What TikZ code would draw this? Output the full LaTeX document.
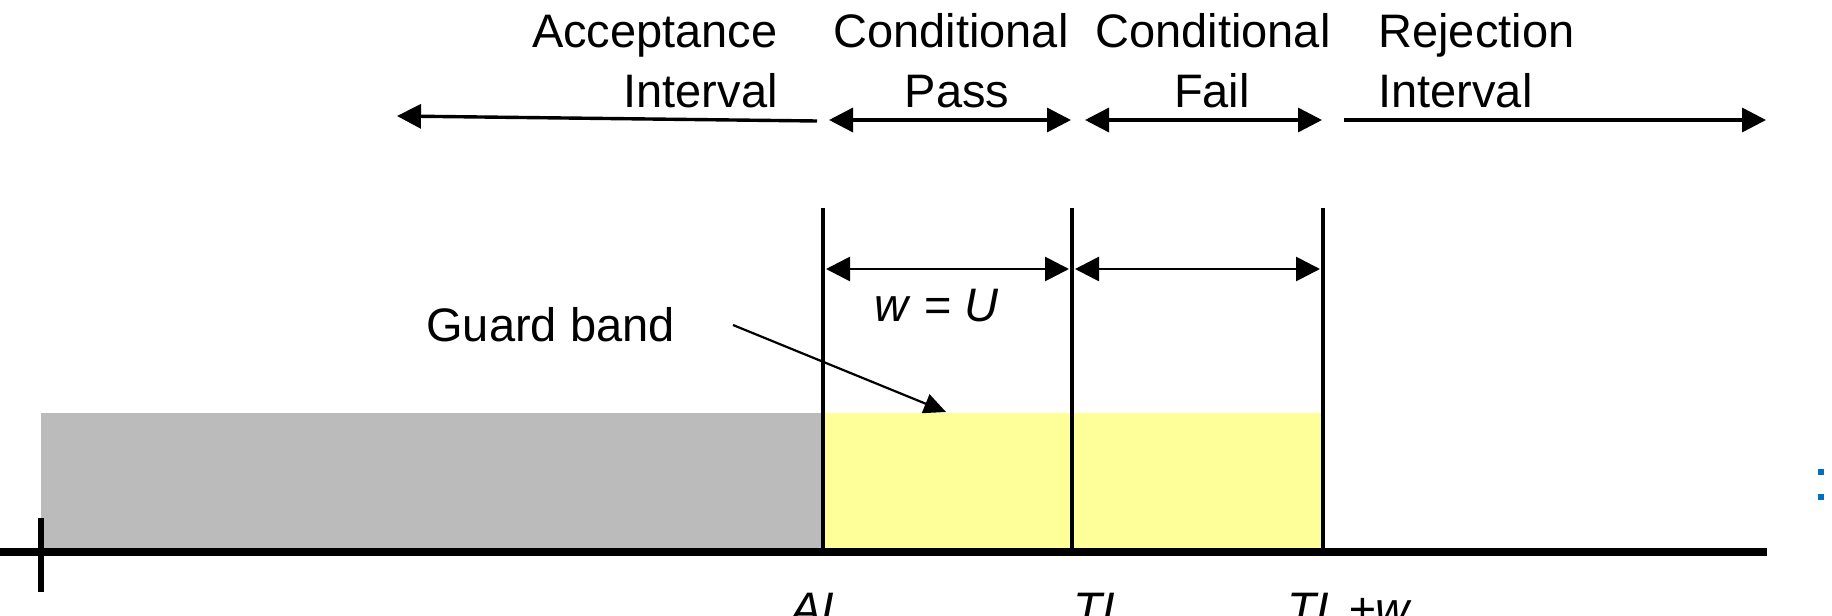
\documentclass[tikz,border=0pt]{standalone}
\usepackage{fontspec}
\setmainfont{Liberation Sans}
\usetikzlibrary{arrows.meta}
\definecolor{gbandyellow}{HTML}{FFFF99}
\definecolor{accgray}{HTML}{BBBBBB}
\definecolor{dotblue}{HTML}{0070C0}
\begin{document}
\begin{tikzpicture}[x=0.5pt,y=-0.5pt,
  lbl/.style={inner sep=0pt, font=\fontsize{23.5pt}{28pt}\selectfont},
  limline/.style={line width=2.3pt},
  toparrow/.style={line width=1.7pt},
  dimarrow/.style={line width=1.4pt},
  headR/.style={-{Triangle[length=12pt,width=12pt]}},
  headLR/.style={{Triangle[length=12pt,width=12pt]}-{Triangle[length=12pt,width=12pt]}},
]
\clip (0,0) rectangle (1832,616);
\fill[white] (0,0) rectangle (1832,616);

% key coordinates
\coordinate (axL) at (0,552);
\coordinate (axR) at (1767,552);
\coordinate (tickT) at (41,518);
\coordinate (tickB) at (41,592);
\coordinate (ALtop) at (823,208);
\coordinate (ALbot) at (823,552);
\coordinate (TLtop) at (1072,208);
\coordinate (TLbot) at (1072,552);
\coordinate (TWtop) at (1323,208);
\coordinate (TWbot) at (1323,552);

% filled regions
\fill[accgray] (41,413) rectangle (823,552);
\fill[gbandyellow] (823,413) rectangle (1323,552);

% axis and tick
\draw[line width=4pt] (axL) -- (axR);
\draw[line width=3pt] (tickT) -- (tickB);

% limit lines
\draw[limline] (ALtop) -- (ALbot);
\draw[limline] (TLtop) -- (TLbot);
\draw[limline] (TWtop) -- (TWbot);

% dimension arrows
\coordinate (d1a) at (826,269);
\coordinate (d1b) at (1069,269);
\coordinate (d2a) at (1075,269);
\coordinate (d2b) at (1320,269);
\draw[dimarrow,headLR] (d1a) -- (d1b);
\draw[dimarrow,headLR] (d2a) -- (d2b);
\node[lbl, anchor=base] (wu) at (937,321) {\textit{w} = \textit{U}};

% guard band
\node[lbl, anchor=base west] (gb) at (426,341) {Guard band};
\coordinate (gbs) at (733,325);
\coordinate (gbe) at (946,412);
\draw[line width=1.1pt, -{Triangle[length=11pt,width=10pt]}] (gbs) -- (gbe);

% top labels
\node[lbl, anchor=base east] (acc1) at (778,47) {Acceptance};
\node[lbl, anchor=base east] (acc2) at (778,107) {Interval};
\node[lbl, anchor=base] (cp1) at (951,47) {Conditional};
\node[lbl, anchor=base] (cp2) at (957,107) {Pass};
\node[lbl, anchor=base] (cf1) at (1213,47) {Conditional};
\node[lbl, anchor=base] (cf2) at (1212,107) {Fail};
\node[lbl, anchor=base west] (rj1) at (1378,47) {Rejection};
\node[lbl, anchor=base west] (rj2) at (1378,107) {Interval};

% top arrows
\coordinate (accR) at (817,121);
\coordinate (accL) at (397,116);
\coordinate (cpL) at (829,120);
\coordinate (cpR) at (1071,120);
\coordinate (cfL) at (1085,120);
\coordinate (cfR) at (1322,120);
\coordinate (rjL) at (1344,120);
\coordinate (rjR) at (1766,120);
\draw[toparrow,headR] (accR) -- (accL);
\draw[toparrow,headLR] (cpL) -- (cpR);
\draw[toparrow,headLR] (cfL) -- (cfR);
\draw[toparrow,headR] (rjL) -- (rjR);

% bottom labels (partly cut off, as in the reference)
\node[lbl, anchor=base west] (al) at (790,625) {\textit{AL}};
\node[lbl, anchor=base west] (tl) at (1073,625) {\textit{TL}};
\node[lbl, anchor=base west] (tlw) at (1287,625) {\textit{TL\kern3pt+w}};

% blue marks at right edge
\fill[dotblue] (1818,469) rectangle (1824,475);
\fill[dotblue] (1818,494) rectangle (1824,500);
\end{tikzpicture}
\end{document}
